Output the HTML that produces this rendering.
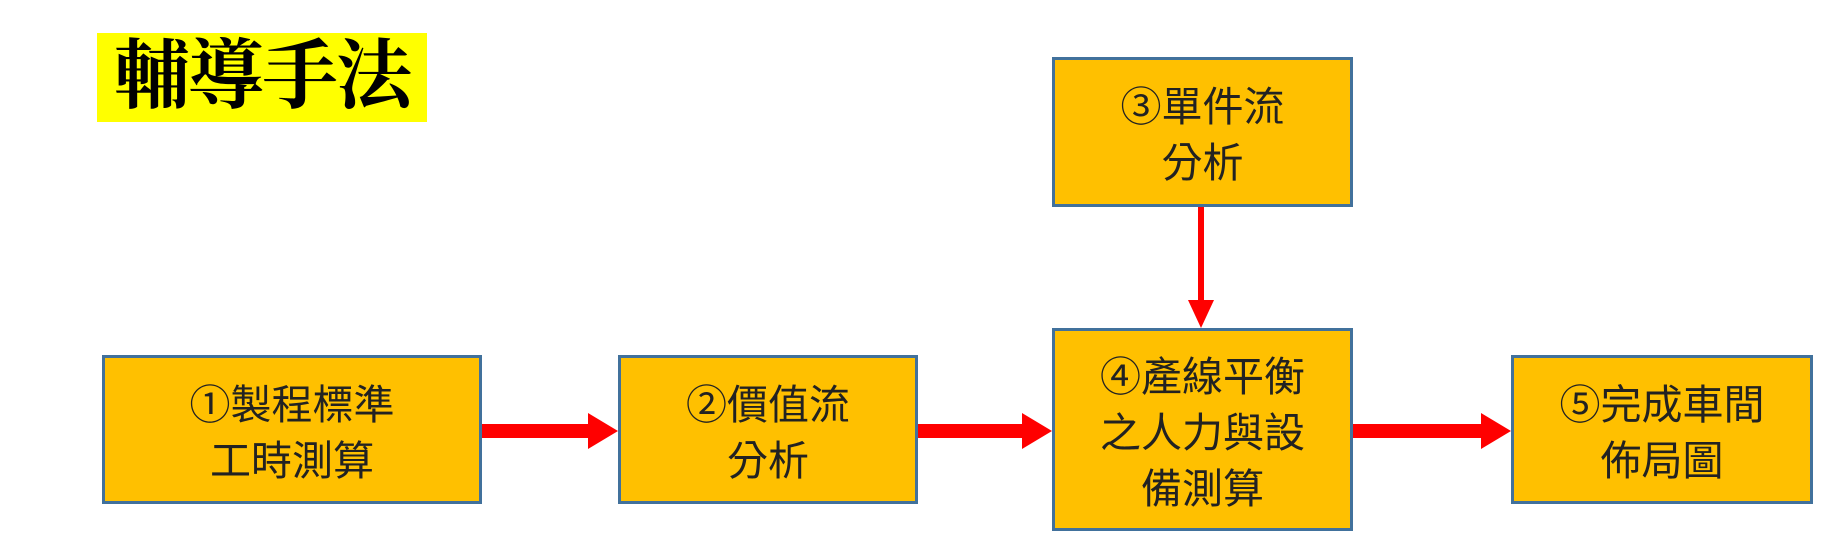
<!DOCTYPE html>
<html><head><meta charset="utf-8"><style>
html,body{margin:0;padding:0;background:#fff;width:1836px;height:538px;overflow:hidden;position:relative}
.t{position:absolute;left:97px;top:33px;width:330px;height:89px;background:#ffff00;font-family:"Liberation Serif","Noto Serif CJK SC",serif;font-weight:bold;font-size:76px;line-height:89px;text-align:center;color:#000;letter-spacing:-2px}
.b{position:absolute;box-sizing:border-box;background:#ffc000;border:3px solid #41719c;display:flex;align-items:center;justify-content:center;text-align:center;font-family:"Liberation Sans","Noto Sans CJK TC",sans-serif;font-size:41px;line-height:56px;color:#222;padding-top:6px}
</style></head><body>
<div class="t">輔導手法</div>
<div class="b" style="left:1052px;top:57px;width:301px;height:150px">③單件流<br>分析</div>
<div class="b" style="left:102px;top:355px;width:380px;height:149px">①製程標準<br>工時測算</div>
<div class="b" style="left:618px;top:355px;width:300px;height:149px">②價值流<br>分析</div>
<div class="b" style="left:1052px;top:328px;width:301px;height:203px">④產線平衡<br>之人力與設<br>備測算</div>
<div class="b" style="left:1511px;top:355px;width:302px;height:149px">⑤完成車間<br>佈局圖</div>
<svg width="1836" height="538" style="position:absolute;left:0;top:0">
<g fill="#ff0000">
<rect x="482" y="424" width="108" height="14"/><polygon points="588,413 618,431 588,449"/>
<rect x="918" y="424" width="106" height="14"/><polygon points="1022,413 1052,431 1022,449"/>
<rect x="1353" y="424" width="130" height="14"/><polygon points="1481,413 1511,431 1481,449"/>
<rect x="1198" y="207" width="6" height="95"/><polygon points="1188,300 1214,300 1201,328"/>
</g></svg>
</body></html>
